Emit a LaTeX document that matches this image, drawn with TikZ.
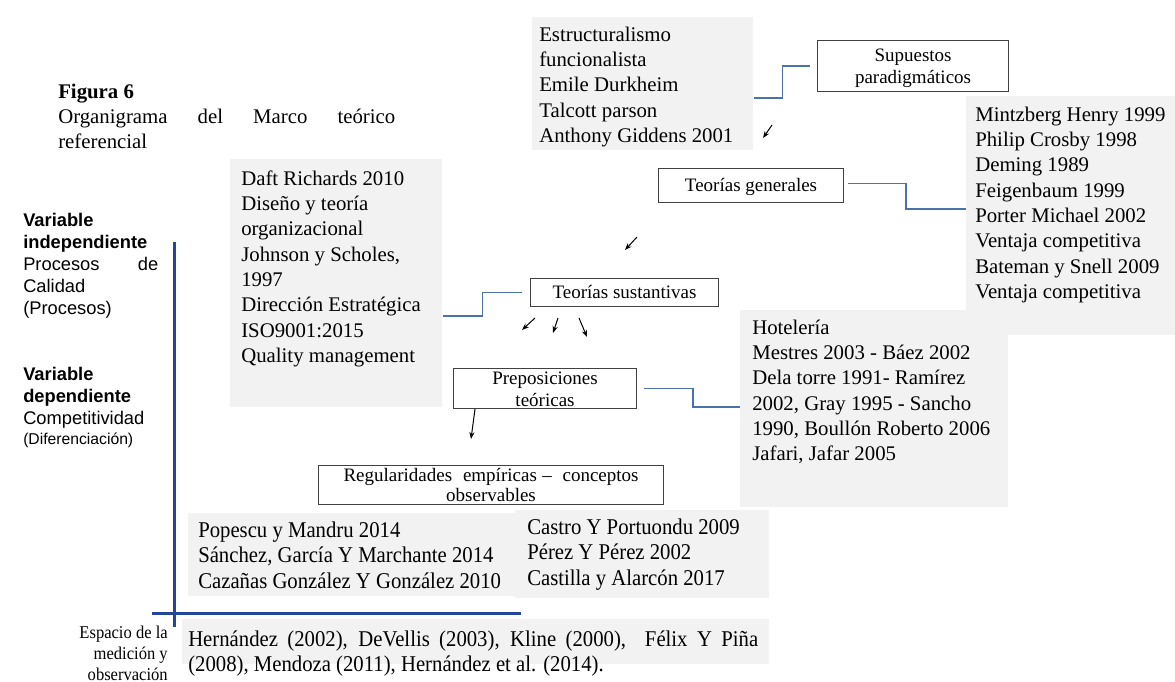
\documentclass[tikz,border=0pt]{standalone}
\usepackage{fontspec}
\setmainfont{Liberation Serif}
\setsansfont{Liberation Sans}
\newfontfamily\narrowserif[FakeStretch=0.92]{Liberation Serif}
\usetikzlibrary{calc,arrows.meta}

% one drawing unit
\newdimen\unitpx \unitpx=0.75pt
% fixed-size text block: width, height, first baseline offset, alignment, lines
\newcommand{\blk}[5]{\parbox[t][#2\unitpx][t]{#1\unitpx}{\vspace*{\dimexpr#3\unitpx-0.7\baselineskip\relax}#4\strut\ignorespaces#5}}

\definecolor{boxgray}{RGB}{242,242,242}
\definecolor{linkblue}{RGB}{74,115,170}
\definecolor{axisblue}{RGB}{35,70,150}
\definecolor{edge}{RGB}{64,64,64}

\tikzset{
  gbox/.style={fill=boxgray, inner sep=0pt, anchor=north west,
    font=\fontsize{15.6pt}{18.98pt}\selectfont},
  nbox/.style={gbox, font=\narrowserif\fontsize{16.9pt}{19.1pt}\selectfont},
  tbox/.style={draw=edge, line width=0.8pt, fill=white, inner sep=0pt, anchor=north west,
    font=\fontsize{14.25pt}{16.5pt}\selectfont},
  plain/.style={inner sep=0pt, anchor=north west},
  link/.style={draw=linkblue, line width=1.05pt},
  axis/.style={draw=axisblue, line width=2.25pt},
  tip/.style={-{Stealth[length=5.25pt,width=3.9pt]}, line width=0.75pt},
}

\begin{document}
\begin{tikzpicture}[x=0.75pt, y=-0.75pt]
\useasboundingbox (0,0) rectangle (1175,682);

% caption
\node[plain, font=\fontsize{15.6pt}{18.75pt}\selectfont] (title) at (58,76)
  {\blk{360}{80}{22}{\raggedright}{\textbf{Figura 6}\\\makebox[337\unitpx][s]{Organigrama del Marco teórico}\\referencial}};

% variables
\node[plain, font=\sffamily\fontsize{13.73pt}{16.5pt}\selectfont] (vind) at (23,204)
  {\blk{140}{110}{22}{\raggedright}{\textbf{Variable}\\\textbf{independiente}\\\makebox[135\unitpx][s]{Procesos de}\\Calidad\\(Procesos)}};
\node[plain, font=\sffamily\fontsize{13.73pt}{16.5pt}\selectfont] (vdep) at (23,358)
  {\blk{140}{100}{22}{\raggedright}{\textbf{Variable}\\\textbf{dependiente}\\Competitividad\\{\fontsize{11.78pt}{15pt}\selectfont(Diferenciación)\par}}};
\node[plain, anchor=north east, font=\narrowserif\fontsize{13.5pt}{15.75pt}\selectfont] (esp) at (168,620)
  {\blk{120}{62}{18}{\raggedleft}{Espacio de la\\medición y\\observación}};

% axes
\coordinate (vtop) at (174,242);
\coordinate (vbot) at (174,627);
\coordinate (hleft) at (152,613);
\coordinate (hright) at (521,613);
\draw[axis] (vtop) -- (vbot);
\draw[axis] (hleft) -- (hright);

% reference lists
\node[gbox] (G1) at (532,17)
  {\blk{221}{133}{24}{\raggedright\leftskip=7\unitpx}{Estructuralismo\\funcionalista\\Emile Durkheim\\Talcott parson\\Anthony Giddens 2001}};
\node[gbox] (G2) at (966,96)
  {\blk{209}{239}{25}{\raggedright\leftskip=9\unitpx}{Mintzberg Henry 1999\\Philip Crosby 1998\\Deming 1989\\Feigenbaum 1999\\Porter Michael 2002\\Ventaja competitiva\\Bateman y Snell 2009\\Ventaja competitiva}};
\node[gbox] (G3) at (230,159)
  {\blk{212}{248}{26}{\raggedright\leftskip=11\unitpx}{Daft Richards 2010\\Diseño y teoría\\organizacional\\Johnson y Scholes,\\1997\\Dirección Estratégica\\ISO9001:2015\\Quality management}};
\node[gbox] (G4) at (740,310)
  {\blk{268}{197}{24}{\raggedright\leftskip=12\unitpx}{Hotelería\\Mestres 2003 - Báez 2002\\Dela torre 1991- Ramírez\\2002, Gray 1995 - Sancho\\1990, Boullón Roberto 2006\\Jafari, Jafar 2005}};
\node[nbox] (G5) at (188,513)
  {\blk{327}{83}{24}{\raggedright\leftskip=10\unitpx}{Popescu y Mandru 2014\\Sánchez, García Y Marchante 2014\\Cazañas González Y González 2010}};
\node[nbox] (G6) at (515,510)
  {\blk{254}{88}{24}{\raggedright\leftskip=12\unitpx}{Castro Y Portuondu 2009\\Pérez Y Pérez 2002\\Castilla y Alarcón 2017}};
\node[nbox] (G7) at (182,619)
  {\blk{587}{45}{27}{\raggedright\leftskip=6\unitpx}{\makebox[570\unitpx][s]{Hernández (2002), DeVellis (2003), Kline (2000),\ \ Félix Y Piña}\\(2008), Mendoza (2011), Hernández et al. (2014).}};

% framed levels
\node[tbox] (B1) at (817,40) {\blk{191}{51}{21}{\centering}{Supuestos\\paradigmáticos}};
\node[tbox] (B2) at (658,168) {\blk{185}{34}{23}{\centering}{Teorías generales}};
\node[tbox] (B3) at (530,278) {\blk{188}{28}{20}{\centering}{Teorías sustantivas}};
\node[tbox] (B4) at (453,368) {\blk{183}{40}{16}{\centering}{Preposiciones\\teóricas}};
\node[tbox, font=\fontsize{14.25pt}{15pt}\selectfont] (B5) at (318,465)
  {\blk{345}{39}{16}{\centering}{\makebox[295\unitpx][s]{Regularidades\ \ empíricas –\ \ conceptos}\\observables}};

% elbow links
\draw[link] ($(G1.north east)+(0,81)$) -- ++(29,0) |- ($(B1.west)+(-7,0)$);
\draw[link] ($(B2.east)+(4,-2)$) -- ++(58,0) |- ($(G2.north west)+(0,113)$);
\draw[link] ($(G3.north east)+(0,157)$) -- ++(40,0) |- ($(B3.west)+(-8,0)$);
\draw[link] ($(B4.east)+(7,0)$) -- ++(49,0) |- ($(G4.north west)+(0,97)$);

% small arrows
\coordinate (a1s) at (772,125); \coordinate (a1e) at (763,138);
\coordinate (a2s) at (637,237); \coordinate (a2e) at (625,250);
\coordinate (a3s) at (535,318); \coordinate (a3e) at (522,330);
\coordinate (a4s) at (558,318); \coordinate (a4e) at (553,333);
\coordinate (a5s) at (579,318); \coordinate (a5e) at (587,337);
\coordinate (a6e) at (471,439);
\draw[tip] (a1s) -- (a1e);
\draw[tip] (a2s) -- (a2e);
\draw[tip] (a3s) -- (a3e);
\draw[tip] (a4s) -- (a4e);
\draw[tip] (a5s) -- (a5e);
\draw[tip] ($(B4.south west)+(22,0)$) -- (a6e);
\end{tikzpicture}
\end{document}
